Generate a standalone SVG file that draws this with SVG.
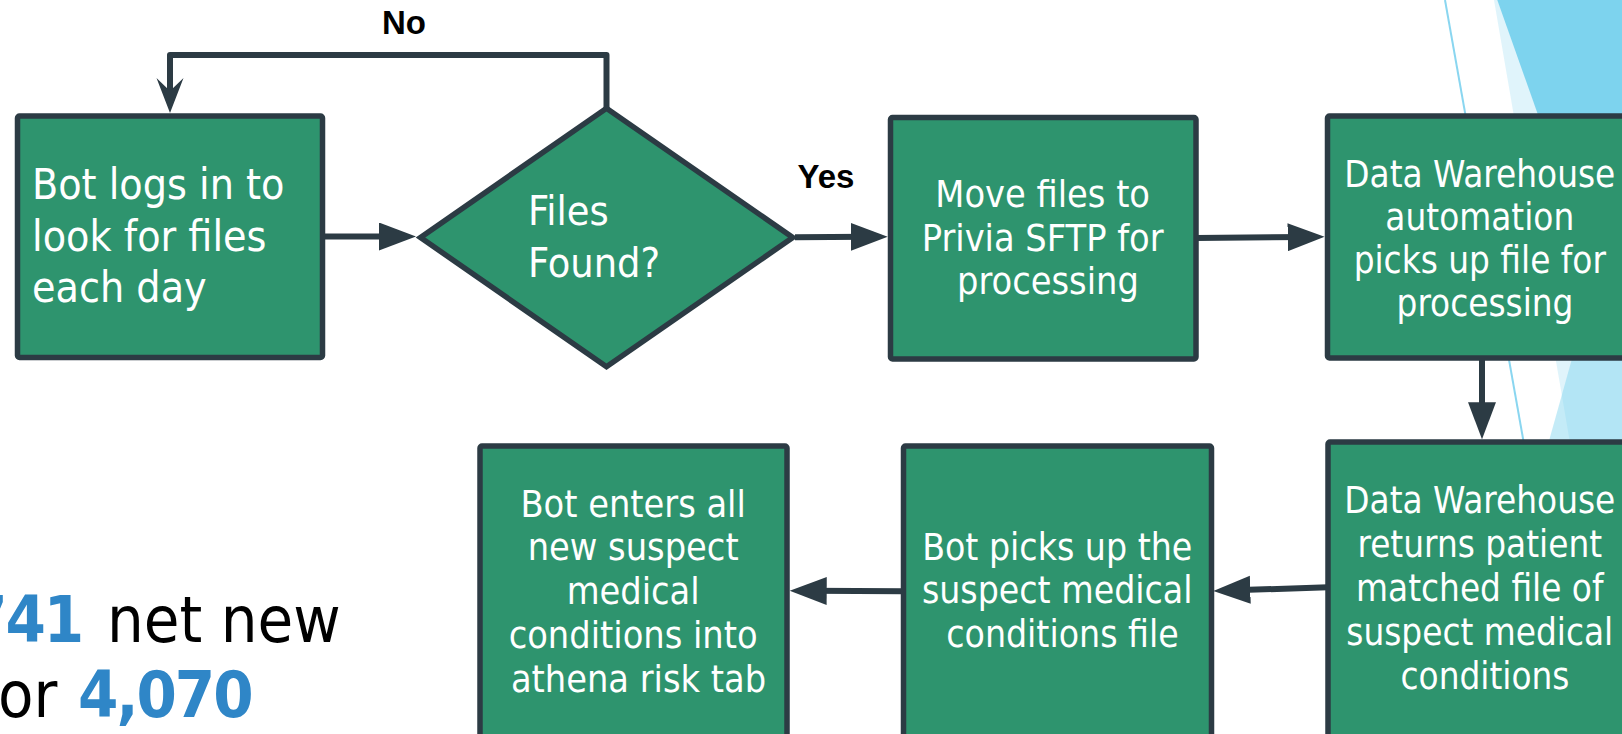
<svg xmlns="http://www.w3.org/2000/svg" width="1622" height="734" viewBox="0 0 1622 734">
  <style>
    .box { fill: #2E946E; stroke: #2C3B44; stroke-width: 5.5; }
    .lbl { font-family: "DejaVu Sans Condensed", "DejaVu Sans", sans-serif; font-stretch: condensed; fill: #FFFFFF; }
    .mid { text-anchor: middle; }
    .conn { fill: none; stroke: #2C3B44; stroke-width: 6; }
    .yn { font-family: "Liberation Sans", Arial, sans-serif; font-weight: bold; font-size: 33px; fill: #000000; }
    .big { font-family: "DejaVu Sans Condensed", "DejaVu Sans", sans-serif; font-stretch: condensed; font-size: 64.5px; fill: #000000; }
    .num { fill: #2F86C7; font-weight: bold; letter-spacing: -2px; }
  </style>
  <defs>
    <marker id="arrow" markerUnits="userSpaceOnUse" markerWidth="40" markerHeight="30" refX="17" refY="14" orient="auto">
      <path d="M0,0 L37,14 L0,28 Z" fill="#2C3B44"/>
    </marker>
    <marker id="stealth" markerUnits="userSpaceOnUse" markerWidth="40" markerHeight="30" refX="20" refY="13.5" orient="auto">
      <path d="M0,0 L35,13.5 L0,27 L13,13.5 Z" fill="#2C3B44"/>
    </marker>
  </defs>

  <rect width="1622" height="734" fill="#FFFFFF"/>

  <!-- theme decoration on the right edge -->
  <g id="decor">
    <polygon points="1494,0 1622,0 1622,734 1620,734" fill="#7DD3EE" fill-opacity="0.24"/>
    <polygon points="1497.3,0 1622,0 1622,352" fill="#7DD3EE"/>
    <polygon points="1622,180 1622,734 1467,734" fill="#7DD3EE" fill-opacity="0.45"/>
    <line x1="1445" y1="0" x2="1575.6" y2="734" stroke="#8AD6F0" stroke-width="2"/>
  </g>

  <!-- headline figures -->
  <g id="stats">
    <text class="big" y="641.7"><tspan class="num" x="-33">741</tspan><tspan x="107">net new</tspan></text>
    <text class="big" y="716.7"><tspan x="-2">or</tspan><tspan class="num" x="78">4,070</tspan></text>
  </g>

  <!-- connectors -->
  <g id="connectors">
    <path class="conn" d="M606.5,108 V55 H170 V98" stroke-linejoin="round" marker-end="url(#stealth)"/>
    <line class="conn" x1="322" y1="236.5" x2="396" y2="236.5" marker-end="url(#arrow)"/>
    <line class="conn" x1="795" y1="237.3" x2="867.7" y2="236.8" marker-end="url(#arrow)"/>
    <line class="conn" x1="1196" y1="238" x2="1304.6" y2="237" marker-end="url(#arrow)"/>
    <line class="conn" x1="1482" y1="358" x2="1482" y2="419.3" marker-end="url(#arrow)"/>
    <line class="conn" x1="1328" y1="587.3" x2="1233.3" y2="590.3" marker-end="url(#arrow)"/>
    <line class="conn" x1="903.5" y1="591.3" x2="809.7" y2="590.8" marker-end="url(#arrow)"/>
    <text class="yn" x="404" y="34" text-anchor="middle">No</text>
    <text class="yn" x="826" y="188" text-anchor="middle">Yes</text>
  </g>

  <g id="n-login">
    <rect class="box" x="17.5" y="116" width="305" height="241.5" rx="2"/>
    <text class="lbl" font-size="42.5">
      <tspan x="32" y="199.3">Bot logs in to</tspan>
      <tspan x="32" y="250.7">look for files</tspan>
      <tspan x="32" y="301.7">each day</tspan>
    </text>
  </g>

  <g id="n-found">
    <polygon class="box" points="420.5,237.5 606.5,108.3 792.8,237.5 606.5,366.7"/>
    <text class="lbl" font-size="41">
      <tspan x="528" y="225">Files</tspan>
      <tspan x="528" y="277">Found?</tspan>
    </text>
  </g>

  <g id="n-move">
    <rect class="box" x="890.5" y="117.5" width="305.5" height="241.5" rx="2"/>
    <text class="lbl mid" font-size="37.5">
      <tspan x="1048" y="207.3">Move files to</tspan>
      <tspan x="1048" y="250.7">Privia SFTP for</tspan>
      <tspan x="1048" y="294">processing</tspan>
    </text>
  </g>

  <g id="n-dw-pickup">
    <rect class="box" x="1327.5" y="116" width="306" height="242" rx="2"/>
    <text class="lbl mid" font-size="36.5">
      <tspan x="1485" y="186.5">Data Warehouse</tspan>
      <tspan x="1485" y="229.5">automation</tspan>
      <tspan x="1485" y="272.5">picks up file for</tspan>
      <tspan x="1485" y="315.5">processing</tspan>
    </text>
  </g>

  <g id="n-dw-return">
    <rect class="box" x="1328" y="442" width="306" height="320" rx="2"/>
    <text class="lbl mid" font-size="36.5">
      <tspan x="1485" y="512.5">Data Warehouse</tspan>
      <tspan x="1485" y="556.5">returns patient</tspan>
      <tspan x="1485" y="600.5">matched file of</tspan>
      <tspan x="1485" y="644.5">suspect medical</tspan>
      <tspan x="1485" y="688.5">conditions</tspan>
    </text>
  </g>

  <g id="n-bot-pickup">
    <rect class="box" x="903.5" y="446" width="308" height="320" rx="2"/>
    <text class="lbl mid" font-size="37">
      <tspan x="1062.5" y="560">Bot picks up the</tspan>
      <tspan x="1062.5" y="603.3">suspect medical</tspan>
      <tspan x="1062.5" y="646.6">conditions file</tspan>
    </text>
  </g>

  <g id="n-bot-enter">
    <rect class="box" x="480" y="446" width="307" height="320" rx="2"/>
    <text class="lbl mid" font-size="37.5">
      <tspan x="638.5" y="516.7">Bot enters all</tspan>
      <tspan x="638.5" y="560.4">new suspect</tspan>
      <tspan x="638.5" y="604.1">medical</tspan>
      <tspan x="638.5" y="647.8">conditions into</tspan>
      <tspan x="638.5" y="691.5">athena risk tab</tspan>
    </text>
  </g>
</svg>
